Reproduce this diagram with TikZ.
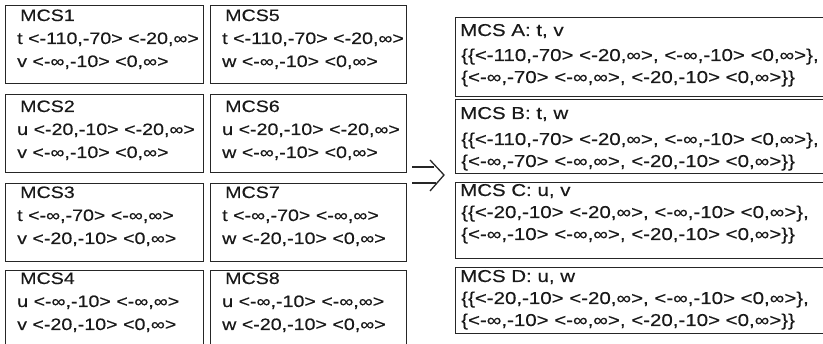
\documentclass[tikz,border=0pt]{standalone}
\usepackage{fontspec}
\setmainfont{Liberation Sans}[FakeStretch=1.19,FakeBold=0.35]
\usetikzlibrary{calc}
% name, x, y, width, first-baseline offset, title, line 1, line 2
\newcommand\mcsbox[8]{%
  \node[box, minimum width=#4pt, minimum height=78pt] (#1) at (#2,#3) {};
  \node[txt] at ($(#1.north west)+(15,#5)$) {#6};
  \node[txt] at ($(#1.north west)+(12,#5+23)$) {#7};
  \node[txt] at ($(#1.north west)+(12,#5+46)$) {#8};
}
% name, y, height, baseline 1, baseline 2, baseline 3, title, line 1, line 2
\newcommand\resultbox[9]{%
  \node[box, minimum width=375pt, minimum height=#3pt] (#1) at (455,#2) {};
  \node[rtxt] at ($(#1.north west)+(5,#4)$) {#7};
  \node[rtxt] at ($(#1.north west)+(6,#5)$) {#8};
  \node[rtxt] at ($(#1.north west)+(6,#6)$) {#9};
}
\begin{document}
\begin{tikzpicture}[x=1pt,y=-1pt,
  box/.style={draw=black!85, line width=1.3pt, rectangle, inner sep=0pt, anchor=north west},
  txt/.style={anchor=base west, inner sep=0pt, text=black!90, font=\fontsize{16.5}{20}\selectfont},
  rtxt/.style={txt, font=\fontsize{17.2}{20}\selectfont},
  arr/.style={draw=black!85, line width=1.3pt}]
\useasboundingbox (0,0) rectangle (823,344);
\mcsbox{m1}{5}{5}{198}{16}{MCS1}{t <-110,-70> <-20,∞>}{v <-∞,-10> <0,∞>}
\mcsbox{m5}{210}{5}{196}{16}{MCS5}{t <-110,-70> <-20,∞>}{w <-∞,-10> <0,∞>}
\mcsbox{m2}{5}{94}{198}{18}{MCS2}{u <-20,-10> <-20,∞>}{v <-∞,-10> <0,∞>}
\mcsbox{m6}{210}{94}{196}{18}{MCS6}{u <-20,-10> <-20,∞>}{w <-∞,-10> <0,∞>}
\mcsbox{m3}{5}{183}{198}{15}{MCS3}{t <-∞,-70> <-∞,∞>}{v <-20,-10> <0,∞>}
\mcsbox{m7}{210}{183}{196}{15}{MCS7}{t <-∞,-70> <-∞,∞>}{w <-20,-10> <0,∞>}
\mcsbox{m4}{5}{270}{198}{14}{MCS4}{u <-∞,-10> <-∞,∞>}{v <-20,-10> <0,∞>}
\mcsbox{m8}{210}{270}{196}{14}{MCS8}{u <-∞,-10> <-∞,∞>}{w <-20,-10> <0,∞>}
\resultbox{sa}{17}{79}{19}{44}{66}{MCS A: t, v}{\{\{<-110,-70> <-20,∞>, <-∞,-10> <0,∞>\},}{\{<-∞,-70> <-∞,∞>, <-20,-10> <0,∞>\}\}}
\resultbox{sb}{99}{74}{20}{46}{68}{MCS B: t, w}{\{\{<-110,-70> <-20,∞>, <-∞,-10> <0,∞>\},}{\{<-∞,-70> <-∞,∞>, <-20,-10> <0,∞>\}\}}
\resultbox{sc}{182}{76}{14}{36}{58}{MCS C: u, v}{\{\{<-20,-10> <-20,∞>, <-∞,-10> <0,∞>\},}{\{<-∞,-10> <-∞,∞>, <-20,-10> <0,∞>\}\}}
\resultbox{sd}{267}{66}{15}{37}{59}{MCS D: u, w}{\{\{<-20,-10> <-20,∞>, <-∞,-10> <0,∞>\},}{\{<-∞,-10> <-∞,∞>, <-20,-10> <0,∞>\}\}}
\coordinate (atail) at (412,175);
\coordinate (ahead) at (444,175);
\draw[arr] ([yshift=8pt]atail) -- ([xshift=-10pt,yshift=8pt]ahead);
\draw[arr] ([yshift=-8pt]atail) -- ([xshift=-8pt,yshift=-8pt]ahead);
\draw[arr, line join=miter] ([xshift=-14pt,yshift=15pt]ahead) -- (ahead) -- ([xshift=-14pt,yshift=-16pt]ahead);
\end{tikzpicture}
\end{document}
